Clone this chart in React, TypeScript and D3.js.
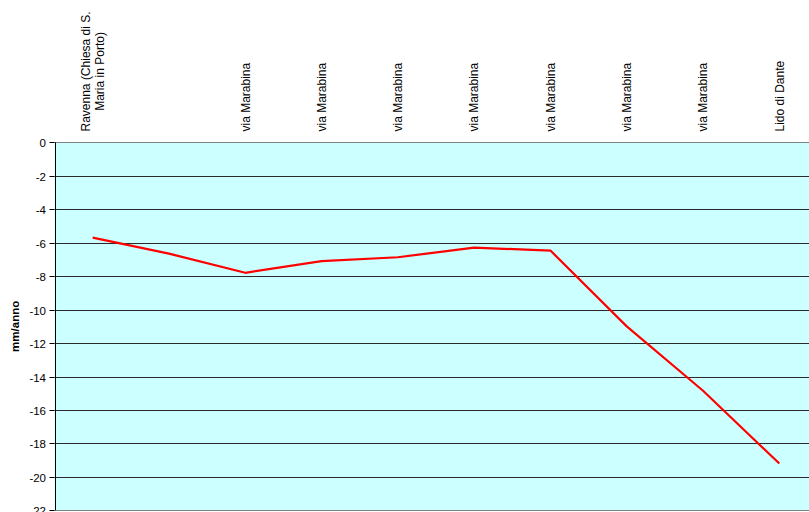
import React, { useEffect, useRef } from "react";
import * as d3 from "d3";

const categories: string[] = [
  "Ravenna (Chiesa di S.|Maria in Porto)",
  "",
  "via Marabina",
  "via Marabina",
  "via Marabina",
  "via Marabina",
  "via Marabina",
  "via Marabina",
  "via Marabina",
  "Lido di Dante",
];
const values: number[] = [-5.7, -6.65, -7.8, -7.1, -6.87, -6.3, -6.47, -11.0, -14.85, -19.2];
const yTicks: number[] = [0, -2, -4, -6, -8, -10, -12, -14, -16, -18, -20, -22];
const yTitle = "mm/anno";

const W = 809;
const H = 512;
const FONT = "Liberation Sans, Arial, sans-serif";

export default function App() {
  const ref = useRef<SVGSVGElement | null>(null);

  useEffect(() => {
    const svg = d3.select(ref.current);
    svg.selectAll("*").remove();

    const left = 54.5;
    const top = 142.3;
    const bottom = 510.4;
    const band = 76.3;
    const right = left + band * categories.length;

    const x = d3
      .scaleBand<number>()
      .domain(categories.map((_, i) => i))
      .range([left, right])
      .paddingInner(0)
      .paddingOuter(0);
    const cx = (i: number) => (x(i) as number) + x.bandwidth() / 2;
    const y = d3.scaleLinear().domain([-22, 0]).range([bottom, top]);

    // plot background
    svg
      .append("rect")
      .attr("x", left)
      .attr("y", top)
      .attr("width", right - left)
      .attr("height", bottom - top)
      .attr("fill", "#ccffff");

    // gridlines
    svg
      .append("g")
      .selectAll("line")
      .data(yTicks.filter((t) => t !== 0 && t !== -22))
      .join("line")
      .attr("x1", left)
      .attr("x2", right)
      .attr("y1", (d) => Math.round(y(d)) + 0.5)
      .attr("y2", (d) => Math.round(y(d)) + 0.5)
      .attr("stroke", "#2a2a2a")
      .attr("stroke-width", 1);

    // top & bottom border (gray)
    [0, -22].forEach((t) => {
      svg
        .append("line")
        .attr("x1", left)
        .attr("x2", right)
        .attr("y1", Math.round(y(t)) + 0.5)
        .attr("y2", Math.round(y(t)) + 0.5)
        .attr("stroke", "#808080")
        .attr("stroke-width", 1);
    });

    // y axis line + ticks
    svg
      .append("line")
      .attr("x1", Math.round(left) + 0.5)
      .attr("x2", Math.round(left) + 0.5)
      .attr("y1", top)
      .attr("y2", bottom)
      .attr("stroke", "#000")
      .attr("stroke-width", 1);

    const yAxis = svg.append("g");
    yTicks.forEach((t) => {
      const yy = Math.round(y(t)) + 0.5;
      yAxis
        .append("line")
        .attr("x1", left - 5)
        .attr("x2", left)
        .attr("y1", yy)
        .attr("y2", yy)
        .attr("stroke", "#000");
      yAxis
        .append("text")
        .attr("x", 46)
        .attr("y", yy)
        .attr("dy", "0.36em")
        .attr("text-anchor", "end")
        .attr("font-family", FONT)
        .attr("font-size", 11.5)
        .attr("fill", "#000")
        .text(String(t));
    });

    // y title
    svg
      .append("text")
      .attr("transform", `translate(15, ${(top + bottom) / 2}) rotate(-90)`)
      .attr("dy", "0.36em")
      .attr("text-anchor", "middle")
      .attr("font-family", FONT)
      .attr("font-size", 11.5)
      .attr("font-weight", "bold")
      .attr("fill", "#000")
      .text(yTitle);

    // category labels (rotated)
    const labelEnd = 131.5;
    const lineGap = 14;
    categories.forEach((c, i) => {
      if (!c) return;
      const lines = c.split("|");
      const g = svg.append("g");
      const n = lines.length;
      const texts = lines.map((ln, k) => {
        const off = (k - (n - 1) / 2) * lineGap;
        return g
          .append("text")
          .attr("font-family", FONT)
          .attr("font-size", 12)
          .attr("fill", "#000")
          .attr("dy", "0.36em")
          .attr("data-off", off)
          .text(ln);
      });
      const lens = texts.map((t) => (t.node() as SVGTextElement).getComputedTextLength());
      const maxLen = Math.max(...lens);
      const center = labelEnd - maxLen / 2;
      texts.forEach((t, k) => {
        const off = (k - (n - 1) / 2) * lineGap;
        t.attr("text-anchor", "middle").attr(
          "transform",
          `translate(${cx(i) + off}, ${center}) rotate(-90)`
        );
      });
    });

    // line
    const line = d3
      .line<number>()
      .x((_, i) => cx(i))
      .y((d) => y(d));
    svg
      .append("path")
      .datum(values)
      .attr("d", line)
      .attr("fill", "none")
      .attr("stroke", "#ff0000")
      .attr("stroke-width", 2.2)
      .attr("stroke-linejoin", "round");
  }, []);

  return (
    <svg
      ref={ref}
      width={W}
      height={H}
      style={{ position: "absolute", left: 0, top: 0, background: "#fff" }}
    />
  );
}
